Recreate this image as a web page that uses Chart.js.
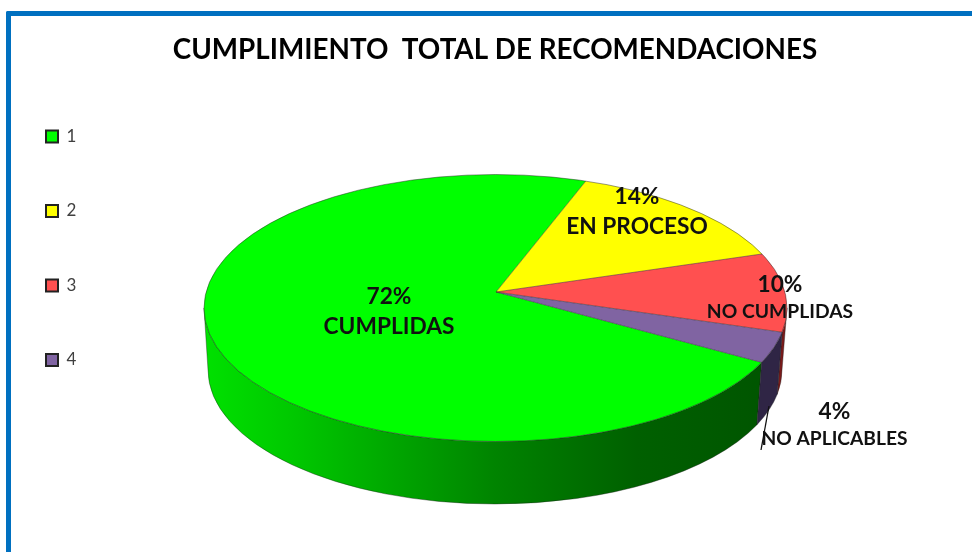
<!DOCTYPE html>
<html>
<head>
<meta charset="utf-8">
<script src="https://cdn.jsdelivr.net/npm/chart.js@4/dist/chart.umd.min.js"></script>
<style>
html,body{margin:0;padding:0;background:#fff;width:972px;height:552px;overflow:hidden}
#frame{position:absolute;left:6px;top:11px;right:0;bottom:0;border-top:5px solid #0070C0;border-left:5px solid #0070C0;border-top-left-radius:2px}
canvas{position:absolute;left:0;top:0}
</style>
</head>
<body>
<div id="frame"></div>
<canvas id="c" width="972" height="552"></canvas>
<script>
const legendLabels = ['1', '2', '3', '4'];
const values = [72, 14, 10, 4];
const sliceNames = ['CUMPLIDAS', 'EN PROCESO', 'NO CUMPLIDAS', 'NO APLICABLES'];
const sliceColors = ['#00FF00', '#FFFF00', '#FF5050', '#8064A2'];
const wallColors = [null, '#8a8a00', '#7a1a1a', '#2f2545'];
const titleText = 'CUMPLIMIENTO  TOTAL DE RECOMENDACIONES';

// Geometry of the tilted pie as projected in the picture
const G = {ax: 496, ay: 292,
           cx: 495.5, cy: 308, rx: 291.5, ry: 133.5,
           bcx: 495, bcy: 370, brx: 287, bry: 134};
// Projection of a unit direction (cos, sin) for the far and the near half
const farHalf = {a: 286, b: 5.6, c: -0.7, d: 117.5};
const nearHalf = {a: 288, b: 7.5, c: 25, d: 132};
const labelLayout = [
  {x: 389, y1: 297, y2: 327, f1: 22.7, f2: 22.7},
  {x: 637, y1: 197, y2: 227, f1: 22.7, f2: 22.7},
  {x: 780, y1: 285, y2: 312, f1: 22.7, f2: 19.3},
  {x: 834.5, y1: 412, y2: 439, f1: 22.7, f2: 19.2}
];
const FONT = 'Lato, Carlito, sans-serif';

function edgePoint(a) {
  const c0 = Math.cos(a), s0 = Math.sin(a), m = s0 < 0 ? farHalf : nearHalf;
  const dx = m.a * c0 + m.c * s0, dy = m.b * c0 + m.d * s0;
  const px = (G.ax - G.cx) / G.rx, py = (G.ay - G.cy) / G.ry;
  const qx = dx / G.rx, qy = dy / G.ry;
  const A = qx*qx + qy*qy, B = 2*(px*qx + py*qy), C = px*px + py*py - 1;
  const t = (-B + Math.sqrt(B*B - 4*A*C)) / (2*A);
  const x = G.ax + t*dx, y = G.ay + t*dy;
  return {x, y, u: Math.atan2((y - G.cy)/G.ry, (x - G.cx)/G.rx)};
}

const pie3d = {
  id: 'pie3d',
  afterLayout(chart) {
    const lg = chart.legend, p = lg.options.labels.padding;
    lg.left = 46 - p;
    lg.top = 128 - p;
    lg.bottom = 552;
  },
  beforeDatasetsDraw(chart) {
    const ctx = chart.ctx, arcs = chart.getDatasetMeta(0).data;
    const grad = ctx.createLinearGradient(208, 0, 780, 0);
    grad.addColorStop(0, '#00e000');
    grad.addColorStop(0.15, '#00c800');
    grad.addColorStop(0.5, '#008400');
    grad.addColorStop(0.75, '#006000');
    grad.addColorStop(1, '#005400');

    // side wall
    arcs.forEach((arc, i) => {
      let u1 = edgePoint(arc.startAngle).u, u2 = edgePoint(arc.endAngle).u;
      if (u1 < 0) u1 += 2*Math.PI;
      if (u2 < 0) u2 += 2*Math.PI;
      if (u2 < u1) u2 += 2*Math.PI;
      if (u1 > Math.PI) { u1 -= 2*Math.PI; u2 -= 2*Math.PI; }
      const s = Math.max(u1, 0), e = Math.min(u2, Math.PI);
      if (e <= s) return;
      ctx.beginPath();
      ctx.ellipse(G.cx, G.cy, G.rx, G.ry, 0, s, e);
      ctx.ellipse(G.bcx, G.bcy, G.brx, G.bry, 0, e, s, true);
      ctx.closePath();
      ctx.fillStyle = wallColors[i] || grad;
      ctx.fill();
      ctx.strokeStyle = 'rgba(30,30,30,0.55)';
      ctx.lineWidth = 0.7;
      ctx.stroke();
    });

    // top face: the library's arcs, projected and clipped to the ellipse
    const k = 1.5;
    [[0, G.ay + 0.5, farHalf], [G.ay - 0.5, 552, nearHalf]].forEach(([y0, y1, m]) => {
      ctx.save();
      ctx.beginPath();
      ctx.ellipse(G.cx, G.cy, G.rx, G.ry, 0, 0, 2*Math.PI);
      ctx.clip();
      ctx.beginPath();
      ctx.rect(0, y0, 972, y1 - y0);
      ctx.clip();
      arcs.forEach(arc => {
        ctx.save();
        ctx.translate(G.ax, G.ay);
        ctx.transform(m.a, m.b, m.c, m.d, 0, 0);
        ctx.scale(k / arc.outerRadius, k / arc.outerRadius);
        ctx.translate(-arc.x, -arc.y);
        arc.draw(ctx);
        ctx.restore();
      });
      ctx.restore();
    });

    // outlines
    ctx.strokeStyle = 'rgba(40,40,40,0.6)';
    ctx.lineWidth = 0.8;
    ctx.beginPath();
    ctx.ellipse(G.cx, G.cy, G.rx, G.ry, 0, 0, 2*Math.PI);
    ctx.stroke();
    arcs.forEach(arc => {
      const p = edgePoint(arc.startAngle);
      ctx.beginPath();
      ctx.moveTo(G.ax, G.ay);
      ctx.lineTo(p.x, p.y);
      ctx.stroke();
    });
    return false;
  },
  afterDraw(chart) {
    const ctx = chart.ctx;
    // leader line of the smallest slice
    ctx.strokeStyle = '#111';
    ctx.lineWidth = 1.3;
    ctx.beginPath();
    ctx.moveTo(769, 406);
    ctx.lineTo(761, 450);
    ctx.stroke();

    ctx.fillStyle = '#111';
    ctx.textAlign = 'center';
    ctx.textBaseline = 'middle';
    values.forEach((v, i) => {
      const L = labelLayout[i];
      ctx.font = 'bold ' + L.f1 + 'px ' + FONT;
      ctx.fillText(v + '%', L.x, L.y1);
      ctx.font = 'bold ' + L.f2 + 'px ' + FONT;
      ctx.fillText(sliceNames[i], L.x, L.y2);
    });
  }
};

new Chart(document.getElementById('c'), {
  type: 'pie',
  plugins: [pie3d],
  data: {
    labels: legendLabels,
    datasets: [{data: values, backgroundColor: sliceColors, borderWidth: 0}]
  },
  options: {
    responsive: false,
    animation: false,
    rotation: 118.8,
    layout: {padding: {left: 18, top: 33}},
    plugins: {
      tooltip: {enabled: false},
      title: {
        display: true,
        text: titleText,
        color: '#000',
        font: {family: FONT, size: 27.8, weight: 'bold'},
        padding: 0
      },
      legend: {
        position: 'left',
        align: 'start',
        labels: {
          boxWidth: 12,
          boxHeight: 12,
          padding: 57.5,
          color: '#404040',
          font: {family: FONT, size: 17},
          generateLabels(chart) {
            return legendLabels.map((t, i) => ({
              text: t, fillStyle: sliceColors[i], strokeStyle: '#222',
              lineWidth: 2, index: i, hidden: false, fontColor: '#404040'
            }));
          }
        }
      }
    }
  }
});
</script>
</body>
</html>
